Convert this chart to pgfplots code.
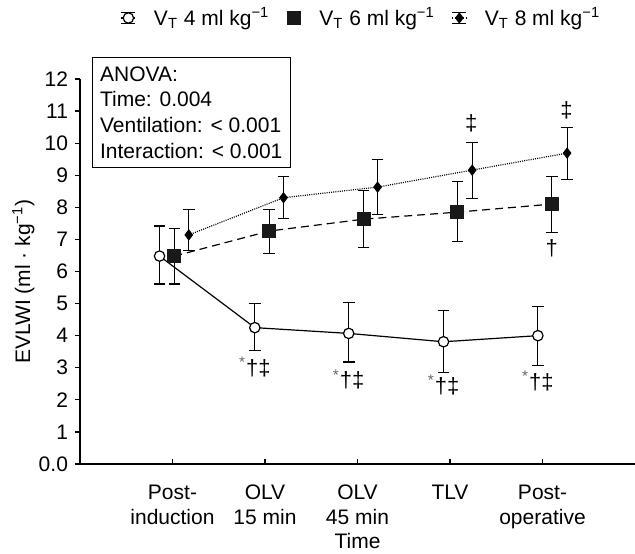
\documentclass[border=0pt]{standalone}
\usepackage{pgfplots}
\pgfplotsset{compat=1.18}
\usepackage{fontspec}
\setmainfont{Liberation Sans}
\newcommand{\fs}{\fontsize{10.5}{12.5}\selectfont}
\begin{document}
\begin{tikzpicture}
\begin{axis}[
  scale only axis, width=277.5pt, height=192.5pt,
  xmin=0, xmax=6, ymin=0, ymax=12,
  clip=false,
  axis lines=left, axis line style={-, line width=0.6pt},
  xtick={1,2,3,4,5},
  xticklabels={Post-\\induction, OLV\\15 min, OLV\\45 min, TLV, Post-\\operative},
  ytick={0,1,...,12},
  yticklabels={0.0,1,2,3,4,5,6,7,8,9,10,11,12},
  tick align=outside,
  major tick length=2.5pt,
  tick style={line width=0.6pt, black},
  xtick style={yshift=2.5pt},
  xticklabel style={align=center, font=\fs, yshift=-4.5pt},
  yticklabel style={font=\fs},
  /pgf/number format/assume math mode=true,
  xlabel={Time},
  ylabel={EVLWI (ml · kg\textsuperscript{−1})},
  label style={font=\fs},
  xlabel style={at={(axis description cs:0.5,-0.2)}, anchor=center},
  ylabel style={at={(axis description cs:-0.102,0.474)}, anchor=center},
  legend style={at={(0.5,1)}, anchor=center, yshift=30.5pt, xshift=2.5pt, draw=none, fill=none,
    legend columns=-1, font=\fs,
    /tikz/every even column/.append style={column sep=6.5pt},
    /tikz/every odd column/.append style={column sep=7pt}},
  legend cell align=left,
  legend image code/.code={%
    \draw[black, line width=0.5pt, solid] (0pt,2.6pt)--(7pt,2.6pt) (0pt,-2.6pt)--(7pt,-2.6pt) (3.5pt,-2.6pt)--(3.5pt,2.6pt);
    \draw[mark repeat=2, mark phase=2, #1] plot coordinates {(0pt,0pt) (3.5pt,0pt) (7pt,0pt)};
  },
]
% VT 4 ml/kg
\addplot[black, line width=0.6pt, solid, mark=*, mark size=2.6pt,
  mark options={solid, fill=white, draw=black},
  error bars/.cd, y dir=both, y explicit,
  error bar style={solid, line width=0.6pt, black},
  error mark options={solid, rotate=90, line width=0.6pt, mark size=2.9pt, black}]
coordinates {
  (0.86,6.48) += (0,0.94) -= (0,0.87)
  (1.89,4.25) += (0,0.74) -= (0,0.71)
  (2.905,4.07) += (0,0.96) -= (0,0.89)
  (3.93,3.81) += (0,0.97) -= (0,0.96)
  (4.95,4.00) += (0,0.90) -= (0,0.92)
};
\addlegendentry{V\textsubscript{T} 4 ml kg\textsuperscript{−1}}
% VT 6 ml/kg
\addplot[black, line width=0.6pt, dash pattern=on 4pt off 2.5pt, mark=square*, mark size=3.2pt,
  mark options={solid, fill=black!90, draw=black!90},
  error bars/.cd, y dir=both, y explicit,
  error bar style={solid, line width=0.6pt, black},
  error mark options={solid, rotate=90, line width=0.6pt, mark size=2.9pt, black}]
coordinates {
  (1.02,6.48) += (0,0.85) -= (0,0.87)
  (2.045,7.26) += (0,0.68) -= (0,0.69)
  (3.066,7.63) += (0,0.89) -= (0,0.89)
  (4.08,7.85) += (0,0.95) -= (0,0.92)
  (5.10,8.10) += (0,0.86) -= (0,0.89)
};
\addlegendentry{V\textsubscript{T} 6 ml kg\textsuperscript{−1}}
% VT 8 ml/kg
\addplot[black, line width=0.6pt, dash pattern=on 0.5pt off 0.6pt, mark=diamond*, mark size=2.4pt,
  mark options={solid, fill=black, draw=black},
  error bars/.cd, y dir=both, y explicit,
  error bar style={solid, line width=0.6pt, black},
  error mark options={solid, rotate=90, line width=0.6pt, mark size=2.9pt, black}]
coordinates {
  (1.176,7.14) += (0,0.80) -= (0,0.49)
  (2.20,8.30) += (0,0.66) -= (0,0.66)
  (3.217,8.63) += (0,0.85) -= (0,0.86)
  (4.24,9.16) += (0,0.86) -= (0,0.88)
  (5.266,9.69) += (0,0.81) -= (0,0.82)
};
\addlegendentry{V\textsubscript{T} 8 ml kg\textsuperscript{−1}}
% ANOVA box
\node[draw, line width=0.6pt, anchor=north west, align=left, minimum width=98.8pt,
  minimum height=55.3pt,
  inner xsep=3.9pt, inner ysep=4pt, font=\fontsize{10.5}{12.85}\selectfont,
  xshift=5.85pt, yshift=11.2pt] at (rel axis cs:0,1)
  {ANOVA:\\Time: 0.004\\Ventilation: < 0.001\\Interaction: < 0.001};
% significance marks
\begin{scope}[every node/.style={font=\fontsize{11}{13}\selectfont, anchor=base, inner sep=0pt}]
\node at (axis cs:1.89,2.77) {\textsuperscript{\color{black!60}*}†‡};
\node at (axis cs:2.905,2.37) {\textsuperscript{\color{black!60}*}†‡};
\node at (axis cs:3.93,2.21) {\textsuperscript{\color{black!60}*}†‡};
\node at (axis cs:4.95,2.31) {\textsuperscript{\color{black!60}*}†‡};
\node at (axis cs:4.23,10.38) {‡};
\node at (axis cs:5.26,10.79) {‡};
\node at (axis cs:5.10,6.51) {†};
\end{scope}
\end{axis}
\pgfresetboundingbox
\path ([shift={(-40pt,-45pt)}]current axis.south west) rectangle ([shift={(0pt,39.5pt)}]current axis.north east);
\end{tikzpicture}
\end{document}
